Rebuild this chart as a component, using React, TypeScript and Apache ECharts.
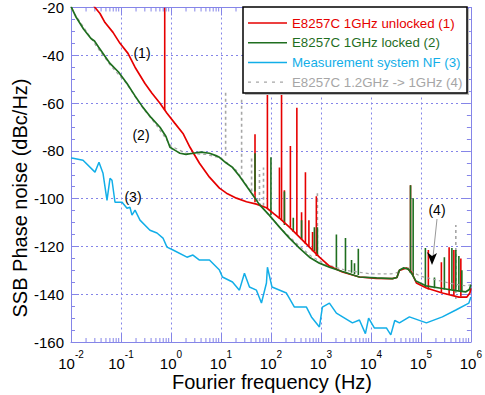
import React, { useEffect, useRef } from 'react';
import * as echarts from 'echarts';

const FONT = '"Liberation Sans", Arial, Helvetica, sans-serif';
const AXIS = '#8585e8';

// tick labels
const yTickValues = [-160, -140, -120, -100, -80, -60, -40, -20];
const xDecadeExponents = [-2, -1, 0, 1, 2, 3, 4, 5, 6];
const minorMultipliers = [2, 3, 4, 5, 6, 7, 8, 9];

const legendLabels = [
  'E8257C 1GHz unlocked (1)',
  'E8257C 1GHz locked (2)',
  'Measurement system NF (3)',
  'E8257C 1.2GHz -> 1GHz (4)',
];

// (1) unlocked – red
const redFreq = [0.0263, 0.0302, 0.038, 0.0479, 0.0692, 0.0955, 0.138, 0.191, 0.302, 0.417, 0.603, 0.832, 1.2, 1.74, 2.4, 3.72, 5.89, 9.33, 12.9, 20.4, 32.4, 51.3, 81.3, 117, 148, 234, 372, 589, 933, 1480, 2690, 5890, 12900, 26900, 33100, 37200, 51300, 64600, 81300, 129000, 269000, 575000, 832000, 955000, 1000000];
const redDb = [-18, -20, -22.5, -26.3, -30.4, -35, -39.2, -45, -51.8, -55.9, -60.1, -64.3, -68.5, -72.7, -78.5, -85.2, -91, -95.6, -97.7, -99.8, -101.3, -102.3, -103.8, -106.5, -108.2, -111.9, -116.1, -120.3, -124.5, -128.2, -130.7, -132.8, -133.4, -133.5, -133, -130, -129, -130.7, -135.3, -137.4, -139.5, -141.2, -141.2, -139.5, -137.5];
// spikes: [frequency, base, top]
const redSpikes = [
  [0.75, -63, -20], [48, -101.5, -73], [85, -104, -40], [148, -108, -87], [163, -109, -40],
  [186, -110, -96.5], [245, -112, -78], [330, -115, -62], [410, -117, -105.7], [490, -119, -89],
  [575, -120, -109], [680, -122, -114], [810, -124, -99], [62000, -131, -94.4], [141000, -138, -121.5],
  [257000, -139.5, -126.6], [367000, -140, -120.3], [457000, -140.5, -121.5], [630000, -141, -125],
];

// (2) locked – green
const greenFreq = [0.01, 0.0126, 0.0178, 0.0251, 0.0295, 0.0355, 0.0501, 0.0603, 0.0891, 0.132, 0.191, 0.275, 0.398, 0.603, 0.794, 0.955, 1.26, 1.51, 2.0, 2.75, 3.98, 5.89, 7.94, 9.33, 12.6, 17, 23.4, 37.2, 58.9, 93.3, 148, 234, 372, 589, 933, 1480, 2690, 5890, 12900, 26900, 33100, 37200, 44700, 56200, 66100, 79400, 126000, 251000, 501000, 794000, 933000, 1000000];
const greenDb = [-19.5, -24, -29, -33, -34, -36.5, -41, -43.4, -47, -51.8, -57, -61.8, -66, -70.1, -74, -78.5, -80, -81, -81.5, -81, -80.5, -81, -82, -82.7, -85, -86.9, -90.5, -96.5, -102.5, -107, -111.9, -116.5, -120.7, -124.5, -127, -128.7, -130.5, -132.8, -133.2, -133.5, -133, -130, -129, -129.5, -131.5, -134.5, -136.5, -137.5, -138.5, -139, -138, -136];
const greenSpikes = [
  [48, -97, -81], [100, -107, -82.7], [186, -111, -97], [280, -114, -108], [410, -117, -109],
  [740, -122, -112], [850, -124, -112], [2040, -129.5, -115], [3100, -130.5, -116.5], [4100, -131, -125.7],
  [4700, -131.5, -127], [5600, -132, -121], [62000, -131, -94.4], [70000, -132, -99.8], [123000, -137, -120.7],
  [187000, -137.5, -133], [295000, -138, -124.5], [417000, -138, -120.7], [500000, -138.5, -121.5],
  [575000, -138.5, -124], [660000, -139, -130],
];

// (3) measurement system noise floor – blue
const blueFreq = [0.01, 0.011, 0.0174, 0.0302, 0.0363, 0.0437, 0.0525, 0.0603, 0.0661, 0.0759, 0.105, 0.132, 0.151, 0.166, 0.191, 0.24, 0.38, 0.525, 0.692, 0.832, 1.1, 2.09, 2.75, 3.72, 5.89, 9.33, 10.7, 17, 23.4, 29.5, 37.2, 51.3, 64.6, 81.3, 85.1, 105, 204, 295, 513, 646, 933, 1070, 1480, 2040, 4270, 5890, 7760, 9000, 11700, 20400, 25000, 30000, 37200, 58900, 129000, 269000, 501000, 912000, 1000000];
const blueDb = [-83, -83.1, -83.9, -88.9, -84.8, -89.4, -100.7, -91.5, -92.3, -101.5, -101.5, -104, -103.6, -106.9, -104.8, -109, -113.2, -114.4, -116.5, -120.3, -121.5, -124.5, -123.6, -125.7, -125.7, -129.9, -132.8, -134.9, -138.3, -131.2, -137, -138.3, -143.7, -135.3, -128.7, -137, -139.5, -145.4, -145.4, -149.5, -153.7, -145.4, -143.7, -147.9, -152, -150.8, -156.5, -150, -154.1, -154.1, -157, -151, -152, -149.5, -152, -149.5, -146.6, -143.7, -141.2];

// (4) 1.2 GHz -> 1 GHz – grey dashed
const greyFreq = [0.01, 0.0158, 0.0316, 0.0631, 0.126, 0.251, 0.501, 1, 2, 5.01, 10, 20, 39.8, 79.4, 158, 316, 631, 1260, 3160, 10000, 25100, 33100, 39800, 56200, 70800, 100000, 200000, 398000, 794000, 1000000];
const greyDb = [-20.5, -26.5, -36, -44.5, -51.5, -61, -69, -78, -81, -81.5, -83, -88, -97, -105.5, -112.5, -118.5, -124, -127.5, -130, -131.5, -131.5, -131, -129.5, -129, -131, -132.5, -134, -135.5, -136.5, -136];
const greySpikes = [
  [12.4, -82, -55.5], [25.9, -90, -57.6], [41, -97, -82.7], [59, -101, -88], [71, -103, -87],
  [850, -124, -97.7], [500000, -142, -111],
];

const RED = '#e60000';
const GREEN = '#1f6e1f';
const BLUE = '#12aee8';
const GREY = '#a6a6a6';

const pairs = (f: number[], d: number[]) => f.map((v, i) => [v, d[i]]);

const spikeSeries = (name: string, data: number[][], color: string, dash?: number[]) => ({
  type: 'custom',
  name,
  data,
  clip: true,
  silent: true,
  encode: { x: 0, y: [1, 2] },
  renderItem: (_p: any, api: any) => {
    const a = api.coord([api.value(0), api.value(1)]);
    const b = api.coord([api.value(0), api.value(2)]);
    return {
      type: 'line',
      shape: { x1: a[0], y1: a[1], x2: b[0], y2: b[1] },
      style: { stroke: color, lineWidth: 1.6, lineDash: dash || null, fill: null },
    };
  },
});

const lineSeries = (name: string, data: number[][], color: string, width: number, dash?: any) => ({
  type: 'line',
  name,
  data,
  showSymbol: false,
  symbol: 'none',
  silent: true,
  lineStyle: { color, width, type: dash || 'solid' },
});

export default function App() {
  const ref = useRef<HTMLDivElement>(null);
  useEffect(() => {
    if (!ref.current) return;
    const chart = echarts.init(ref.current, undefined, { renderer: 'svg' });
    const minorFreqs: number[][] = [];
    xDecadeExponents.slice(0, -1).forEach((e) => {
      minorMultipliers.forEach((m) => minorFreqs.push([m * Math.pow(10, e)]));
    });
    const yMin = yTickValues[0];
    const yMax = yTickValues[yTickValues.length - 1];

    const legendRows = [RED, GREEN, BLUE, GREY];
    const legendGraphics: any[] = [
      { type: 'rect', shape: { x: 245, y: 9, width: 224, height: 86 }, style: { fill: '#bbb' }, z: 100 },
      { type: 'rect', shape: { x: 243, y: 7, width: 224, height: 86 }, style: { fill: '#fff', stroke: '#000', lineWidth: 1.5 }, z: 101 },
    ];
    legendRows.forEach((c, i) => {
      const y = 23 + i * 19.7;
      legendGraphics.push({
        type: 'line', z: 102,
        shape: { x1: 248, y1: y, x2: 287, y2: y },
        style: { stroke: c, lineWidth: i === 3 ? 1.2 : 1.5, lineDash: i === 3 ? [3, 5] : null },
      });
      legendGraphics.push({
        type: 'text', z: 102, x: 292, y,
        style: { text: legendLabels[i], fill: c, font: `13.3px ${FONT}`, verticalAlign: 'middle', align: 'left' },
      });
    });

    const option: any = {
      animation: false,
      backgroundColor: '#fff',
      grid: { left: 71, right: 13, top: 7, bottom: 53, containLabel: false },
      xAxis: [
        {
          type: 'log', logBase: 10, min: 0.01, max: 1e6, interval: 1, position: 'bottom',
          axisLine: { show: true, onZero: false, lineStyle: { color: AXIS, width: 1 } },
          axisTick: { show: true, inside: true, length: 8, lineStyle: { color: AXIS } },
          minorTick: { show: false },
          axisLabel: {
            margin: 7,
            formatter: (v: number) => `{b|10}{s|${Math.round(Math.log10(v))}}`,
            rich: {
              b: { fontSize: 15, fontFamily: FONT, color: '#000', verticalAlign: 'bottom', lineHeight: 22 },
              s: { fontSize: 10, fontFamily: FONT, color: '#000', verticalAlign: 'top', lineHeight: 22 },
            },
          },
          splitLine: { show: true, lineStyle: { color: AXIS, type: [2, 3], width: 1 } },
        },
        {
          type: 'log', logBase: 10, min: 0.01, max: 1e6, interval: 1, position: 'top',
          axisLine: { show: true, onZero: false, lineStyle: { color: AXIS, width: 1 } },
          axisTick: { show: true, inside: true, length: 8, lineStyle: { color: AXIS } },
          axisLabel: { show: false },
          splitLine: { show: false },
        },
      ],
      yAxis: [
        {
          type: 'value', min: yMin, max: yMax, interval: 20, position: 'left',
          axisLine: { show: true, onZero: false, lineStyle: { color: AXIS, width: 1 } },
          axisTick: { show: true, inside: true, length: 8, lineStyle: { color: AXIS } },
          minorTick: { show: true, splitNumber: 4, length: 4, lineStyle: { color: AXIS } },
          axisLabel: { margin: 7, fontSize: 15, fontFamily: FONT, color: '#000' },
          splitLine: { show: true, lineStyle: { color: AXIS, type: [2, 3], width: 1 } },
        },
        {
          type: 'value', min: yMin, max: yMax, interval: 20, position: 'right',
          axisLine: { show: true, onZero: false, lineStyle: { color: AXIS, width: 1 } },
          axisTick: { show: true, inside: true, length: 8, lineStyle: { color: AXIS } },
          minorTick: { show: true, splitNumber: 4, length: 4, lineStyle: { color: AXIS } },
          axisLabel: { show: false },
          splitLine: { show: false },
        },
      ],
      series: [
        lineSeries('grey', pairs(greyFreq, greyDb), GREY, 1.2, [3, 3]),
        spikeSeries('greySpikes', greySpikes, GREY, [3, 3]),
        lineSeries('blue', pairs(blueFreq, blueDb), BLUE, 1.5),
        lineSeries('red', pairs(redFreq, redDb), RED, 1.7),
        spikeSeries('redSpikes', redSpikes, RED),
        lineSeries('green', pairs(greenFreq, greenDb), GREEN, 1.7),
        spikeSeries('greenSpikes', greenSpikes, GREEN),
        {
          type: 'custom', name: 'minorTicks', data: minorFreqs, silent: true, clip: false,
          encode: { x: 0 },
          renderItem: (_p: any, api: any) => {
            const b = api.coord([api.value(0), yMin]);
            const t = api.coord([api.value(0), yMax]);
            return {
              type: 'group',
              children: [
                { type: 'line', shape: { x1: b[0], y1: b[1], x2: b[0], y2: b[1] - 4 }, style: { stroke: AXIS, lineWidth: 1 } },
                { type: 'line', shape: { x1: t[0], y1: t[1], x2: t[0], y2: t[1] + 4 }, style: { stroke: AXIS, lineWidth: 1 } },
              ],
            };
          },
        },
      ],
      graphic: [
        ...legendGraphics,
        { type: 'text', x: 142, y: 53, z: 50, style: { text: '(1)', font: `14px ${FONT}`, fill: '#000', align: 'center', verticalAlign: 'middle' } },
        { type: 'text', x: 141, y: 135, z: 50, style: { text: '(2)', font: `14px ${FONT}`, fill: '#000', align: 'center', verticalAlign: 'middle' } },
        { type: 'text', x: 133, y: 197, z: 50, style: { text: '(3)', font: `14px ${FONT}`, fill: '#000', align: 'center', verticalAlign: 'middle' } },
        { type: 'text', x: 437, y: 210, z: 50, style: { text: '(4)', font: `14px ${FONT}`, fill: '#000', align: 'center', verticalAlign: 'middle' } },
        { type: 'line', z: 50, shape: { x1: 437, y1: 219, x2: 433, y2: 257 }, style: { stroke: '#999', lineWidth: 1 } },
        { type: 'polygon', z: 50, shape: { points: [[432, 265], [427, 252], [432, 256], [437, 253]] }, style: { fill: '#000' } },
        { type: 'text', x: 272, y: 382, style: { text: 'Fourier frequency (Hz)', font: `20px ${FONT}`, fill: '#000', align: 'center', verticalAlign: 'middle' } },
        { type: 'text', x: 20, y: 198, rotation: Math.PI / 2, style: { text: 'SSB Phase noise (dBc/Hz)', font: `20px ${FONT}`, fill: '#000', align: 'center', verticalAlign: 'middle' } },
      ],
    };
    chart.setOption(option);
    return () => chart.dispose();
  }, []);
  return <div ref={ref} style={{ position: 'fixed', left: 0, top: 0, width: 485, height: 395 }} />;
}
